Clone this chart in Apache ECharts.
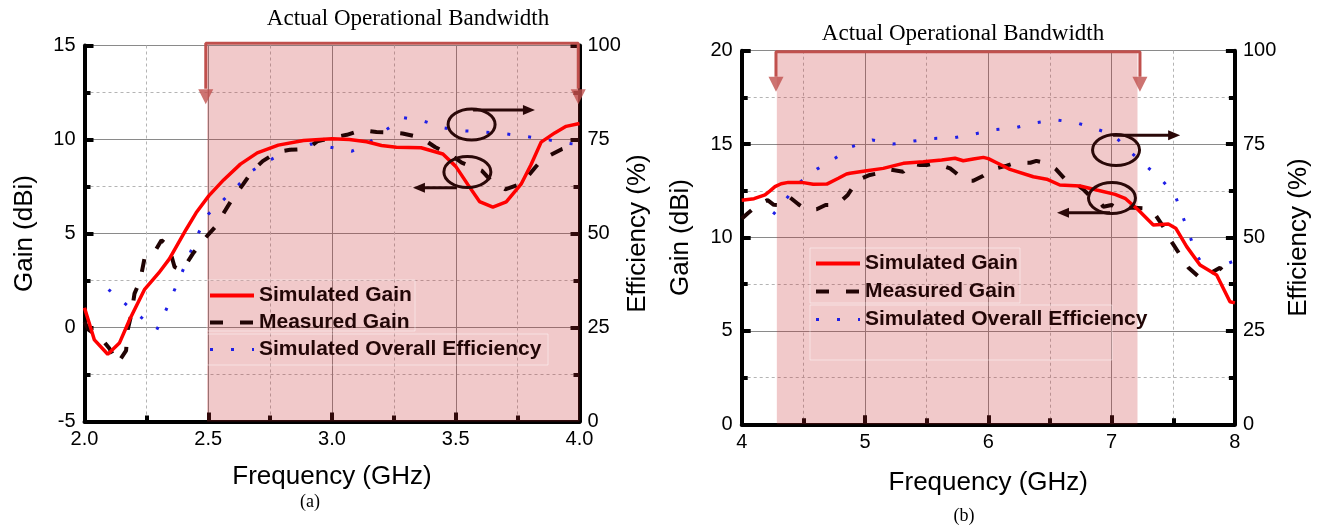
<!DOCTYPE html>
<html>
<head>
<meta charset="utf-8">
<script src="https://cdn.jsdelivr.net/npm/echarts@6/dist/echarts.min.js"></script>
<style>
  html, body { margin: 0; padding: 0; background: #fff; }
  #main { width: 1327px; height: 528px; }
</style>
</head>
<body>
<div id="main"></div>
<script>
// ---- data: [frequency GHz, value] ----
const simGainA = [
  [2.0, 1.05], [2.04, -0.66], [2.094, -1.42], [2.141, -0.83], [2.182, 0.41], [2.242, 2.01],
  [2.3, 2.9], [2.343, 3.65], [2.41, 5.2], [2.451, 6.1], [2.502, 7.0], [2.562, 7.85],
  [2.63, 8.69], [2.698, 9.29], [2.783, 9.7], [2.885, 9.95], [3.0, 10.04], [3.07, 10.0],
  [3.14, 9.88], [3.2, 9.68], [3.26, 9.59], [3.36, 9.56], [3.448, 9.23], [3.5, 8.57],
  [3.549, 7.6], [3.596, 6.7], [3.65, 6.4], [3.704, 6.68], [3.764, 7.62], [3.804, 8.66],
  [3.845, 9.86], [3.9, 10.35], [3.946, 10.7], [4.0, 10.85]
];
const measGainA = [
  [2.0, 0.3], [2.017, -0.12], [2.067, -0.57], [2.1, -1.1], [2.134, -1.9], [2.168, -1.23],
  [2.175, -0.09], [2.189, 0.68], [2.202, 1.8], [2.225, 2.5], [2.242, 3.65], [2.273, 3.79],
  [2.311, 4.64], [2.34, 4.33], [2.364, 3.22], [2.395, 3.04], [2.438, 3.93], [2.474, 4.56],
  [2.535, 5.45], [2.558, 6.0], [2.6, 6.9], [2.64, 7.6], [2.68, 8.35], [2.72, 8.85],
  [2.78, 9.35], [2.83, 9.45], [2.9, 9.5], [2.94, 9.9], [3.02, 10.15], [3.06, 10.25],
  [3.12, 10.5], [3.18, 10.4], [3.236, 10.38], [3.285, 10.32], [3.36, 10.1], [3.416, 9.6],
  [3.48, 9.18], [3.524, 8.77], [3.605, 8.34], [3.64, 7.85], [3.7, 7.35], [3.766, 7.65],
  [3.82, 8.5], [3.85, 8.95], [3.93, 9.5], [3.98, 9.7], [4.0, 9.75]
];
const effA = [
  [2.097, 35.1], [2.163, 31.4], [2.229, 27.7], [2.292, 24.4], [2.327, 29.3], [2.361, 34.6],
  [2.395, 39.8], [2.428, 45.0], [2.462, 50.3], [2.498, 55.0], [2.559, 58.8], [2.622, 62.9],
  [2.68, 66.8], [2.757, 69.8], [2.832, 72.3], [2.916, 73.8], [2.997, 72.9], [3.081, 71.9],
  [3.152, 74.3], [3.219, 77.6], [3.289, 80.8], [3.37, 79.9], [3.45, 78.1], [3.533, 77.3],
  [3.616, 77.0], [3.701, 76.5], [3.784, 75.8], [3.868, 75.0], [3.952, 74.0], [4.0, 73.6]
];

const simGainB = [
  [4.0, 12.0], [4.1, 12.08], [4.189, 12.28], [4.23, 12.5], [4.27, 12.72], [4.32, 12.88],
  [4.378, 12.95], [4.487, 12.95], [4.58, 12.85], [4.69, 12.86], [4.784, 13.17], [4.85, 13.4],
  [4.878, 13.44], [5.0, 13.56], [5.148, 13.7], [5.311, 13.97], [5.473, 14.06], [5.622, 14.15],
  [5.73, 14.24], [5.797, 14.11], [5.878, 14.2], [5.96, 14.29], [6.0, 14.22], [6.068, 14.0],
  [6.176, 13.65], [6.365, 13.25], [6.474, 13.12], [6.58, 12.81], [6.744, 12.76], [6.879, 12.54],
  [7.028, 12.31], [7.109, 12.1], [7.217, 11.47], [7.338, 10.67], [7.46, 10.72], [7.52, 10.5],
  [7.609, 9.51], [7.717, 8.53], [7.852, 7.99], [7.96, 6.56], [8.0, 6.5]
];
const measGainB = [
  [4.0, 11.0], [4.05, 11.3], [4.13, 11.74], [4.21, 12.0], [4.26, 11.75], [4.31, 11.74],
  [4.384, 12.18], [4.46, 11.78], [4.527, 11.47], [4.608, 11.51], [4.68, 11.74], [4.77, 11.74],
  [4.86, 12.28], [4.94, 13.08], [5.04, 13.35], [5.108, 13.44], [5.19, 13.65], [5.31, 13.52],
  [5.365, 13.97], [5.446, 13.88], [5.5, 13.88], [5.554, 13.97], [5.608, 13.88], [5.69, 13.7],
  [5.73, 13.49], [5.81, 13.04], [5.878, 13.04], [5.96, 13.31], [6.03, 13.65], [6.15, 13.85],
  [6.22, 14.0], [6.34, 14.0], [6.39, 14.1], [6.487, 13.95], [6.55, 13.65], [6.622, 13.12],
  [6.676, 13.04], [6.77, 12.58], [6.825, 12.22], [6.892, 12.0], [6.933, 11.65], [7.0, 11.74],
  [7.04, 11.56], [7.15, 11.6], [7.257, 11.56], [7.333, 11.43], [7.419, 10.58], [7.46, 10.04],
  [7.568, 8.94], [7.622, 8.4], [7.73, 7.76], [7.784, 8.03], [7.879, 8.38], [7.946, 7.9], [8.0, 7.6]
];
const effB = [
  [4.256, 56.2], [4.362, 60.4], [4.476, 64.9], [4.61, 68.3], [4.757, 71.2], [4.892, 74.3],
  [5.06, 76.1], [5.225, 75.0], [5.392, 75.8], [5.554, 76.5], [5.724, 76.7], [5.887, 77.7],
  [6.06, 78.9], [6.221, 79.4], [6.384, 80.7], [6.548, 81.5], [6.717, 80.7], [6.879, 79.0],
  [7.014, 77.5], [7.13, 73.6], [7.257, 69.8], [7.387, 66.1], [7.514, 61.4], [7.573, 56.0],
  [7.63, 50.8], [7.69, 45.3], [7.771, 41.1], [7.85, 40.6], [7.922, 42.8], [8.0, 43.8]
];

// axis ticks
const freqTicksA = [2.0, 2.5, 3.0, 3.5, 4.0];
const gainTicksA = [-5, 0, 5, 10, 15];
const freqTicksB = [4, 5, 6, 7, 8];
const gainTicksB = [0, 5, 10, 15, 20];
const effTicks = [0, 25, 50, 75, 100];

// operational band (GHz) and bracket heights (dBi): [from, to]
const bandA = [2.495, 4.0];
const bracketA = [2.49, 3.995];
const bracketYA = [15.12, 12.7, 12.28];
const bandB = [4.285, 7.21];
const bracketB = [4.278, 7.23];
const bracketYB = [19.95, 18.6, 18.2];

// ellipse + arrow annotations in data units
const ringsA = [
  { c: [3.564, 10.80], from: [3.570, 11.57], to: [3.820, 11.57] },
  { c: [3.547, 8.27], from: [3.505, 7.44], to: [3.327, 7.44] }
];
const ringsB = [
  { c: [7.036, 14.68], from: [7.012, 15.47], to: [7.556, 15.47] },
  { c: [7.003, 12.11], from: [6.987, 11.33], to: [6.557, 11.33] }
];

const names = ['Simulated Gain', 'Measured Gain', 'Simulated Overall Efficiency'];
const SANS = '"Liberation Sans", Arial, sans-serif';
const SERIF = '"Liberation Serif", "Times New Roman", serif';
const red = '#ff0000', dark = '#200404', blue = '#1f1fe6', brk = '#c0504d', ink = '#2a0808';

var dom = document.getElementById('main');
var myChart = echarts.init(dom, null, { renderer: 'canvas' });

function ticks() {
  return {
    axisTick: { show: true, inside: true, length: 9, lineStyle: { color: '#000', width: 4 } },
    minorTick: { show: true, splitNumber: 2, length: 6, lineStyle: { color: '#000', width: 4 } }
  };
}
function xAxisCfg(grid, tk, fmt) {
  return Object.assign({
    type: 'value', gridIndex: grid,
    min: tk[0], max: tk[tk.length - 1], interval: tk[1] - tk[0],
    name: 'Frequency (GHz)', nameLocation: 'middle', nameGap: grid === 0 ? 42 : 46,
    nameTextStyle: { fontSize: 26, color: '#000', fontFamily: SANS },
    axisLine: { show: true, onZero: false, lineStyle: { color: '#000', width: 4 } },
    axisLabel: { fontSize: 20, color: '#000', fontFamily: SANS, margin: 8, formatter: fmt },
    splitLine: { show: true, lineStyle: { color: '#8a8a8a', width: 1 } },
    minorSplitLine: { show: true, lineStyle: { color: '#b4b4b4', width: 1, type: [3, 3] } }
  }, ticks());
}
function gainAxisCfg(grid, tk) {
  return Object.assign({
    type: 'value', gridIndex: grid, position: 'left',
    min: tk[0], max: tk[tk.length - 1], interval: tk[1] - tk[0],
    name: 'Gain (dBi)', nameLocation: 'middle', nameGap: grid === 0 ? 47 : 48, nameRotate: 90,
    nameTextStyle: { fontSize: 26, color: '#000', fontFamily: SANS },
    axisLine: { show: true, onZero: false, lineStyle: { color: '#000', width: 4 } },
    axisLabel: { fontSize: 20, color: '#000', fontFamily: SANS, margin: 9 },
    splitLine: { show: true, lineStyle: { color: '#8a8a8a', width: 1 } },
    minorSplitLine: { show: true, lineStyle: { color: '#b4b4b4', width: 1, type: [3, 3] } }
  }, ticks());
}
function effAxisCfg(grid) {
  return Object.assign({
    type: 'value', gridIndex: grid, position: 'right',
    min: effTicks[0], max: effTicks[effTicks.length - 1], interval: effTicks[1] - effTicks[0],
    name: 'Efficiency (%)', nameLocation: 'middle', nameGap: grid === 0 ? 36 : 51, nameRotate: 90,
    nameTextStyle: { fontSize: 26, color: '#000', fontFamily: SANS },
    axisLine: { show: true, onZero: false, lineStyle: { color: '#000', width: 4 } },
    axisLabel: { fontSize: 20, color: '#000', fontFamily: SANS, margin: 8 },
    splitLine: { show: false }, minorSplitLine: { show: false }
  }, ticks());
}
function legendCfg(left, top, gap) {
  return {
    data: [
      { name: names[0], lineStyle: { width: 4 } },
      { name: names[1], lineStyle: { width: 4 } },
      { name: names[2], lineStyle: { width: 3 } }
    ],
    orient: 'vertical', left: left, top: top, padding: 0,
    itemWidth: 44, itemHeight: 14, itemGap: gap, selectedMode: false,
    itemStyle: { color: 'rgba(0,0,0,0)', borderWidth: 0, opacity: 0 },
    textStyle: { fontSize: 21, fontWeight: 'bold', color: '#220606', fontFamily: SANS }
  };
}
function panelSeries(xi, yi, ei, sim, meas, eff, band, brX, brY) {
  return [
    { type: 'line', xAxisIndex: xi, yAxisIndex: yi, data: [], z: 1, silent: true,
      markArea: { silent: true, itemStyle: { color: 'rgba(200, 40, 45, 0.25)' },
        data: [[{ xAxis: band[0] }, { xAxis: band[1] }]] } },
    { name: names[2], type: 'line', xAxisIndex: xi, yAxisIndex: ei, data: eff, symbol: 'none', z: 3,
      lineStyle: { color: blue, width: 3, type: [3, 18], cap: 'butt' }, itemStyle: { color: blue } },
    { name: names[1], type: 'line', xAxisIndex: xi, yAxisIndex: yi, data: meas, symbol: 'none', z: 4,
      lineStyle: { color: dark, width: 4, type: [13, 17], cap: 'butt' }, itemStyle: { color: dark } },
    { name: names[0], type: 'line', xAxisIndex: xi, yAxisIndex: yi, data: sim, symbol: 'none', z: 5,
      lineStyle: { color: red, width: 3.5 }, itemStyle: { color: red } },
    { type: 'line', xAxisIndex: xi, yAxisIndex: yi, symbol: 'none', clip: false, silent: true, z: 6,
      data: [[brX[0], brY[1]], [brX[0], brY[0]], [brX[1], brY[0]], [brX[1], brY[1]]],
      lineStyle: { color: brk, width: 3 } },
    { type: 'scatter', xAxisIndex: xi, yAxisIndex: yi, symbol: 'triangle', symbolRotate: 180,
      symbolSize: [15, 15], clip: false, silent: true, z: 6,
      data: [[brX[0], brY[2]], [brX[1], brY[2]]], itemStyle: { color: brk } }
  ];
}

var option = {
  animation: false,
  backgroundColor: '#fff',
  grid: [
    { left: 84.5, top: 45.5, width: 495, height: 376, outerBoundsMode: 'none' },
    { left: 741.7, top: 50.7, width: 493.2, height: 373.6, outerBoundsMode: 'none' }
  ],
  legend: [legendCfg(208, 285, 6), legendCfg(814, 253, 7)],
  xAxis: [
    xAxisCfg(0, freqTicksA, function (v) { return v.toFixed(1); }),
    xAxisCfg(1, freqTicksB, function (v) { return String(Math.round(v)); })
  ],
  yAxis: [gainAxisCfg(0, gainTicksA), effAxisCfg(0), gainAxisCfg(1, gainTicksB), effAxisCfg(1)],
  series: [].concat(
    panelSeries(0, 0, 1, simGainA, measGainA, effA, bandA, bracketA, bracketYA),
    panelSeries(1, 2, 3, simGainB, measGainB, effB, bandB, bracketB, bracketYB)
  )
};
myChart.setOption(option);

// decorations: titles, legend frames and the ellipse/arrow callouts
function callouts(xi, yi, rings) {
  var out = [];
  rings.forEach(function (r) {
    var c = myChart.convertToPixel({ xAxisIndex: xi, yAxisIndex: yi }, r.c);
    var a = myChart.convertToPixel({ xAxisIndex: xi, yAxisIndex: yi }, r.from);
    var b = myChart.convertToPixel({ xAxisIndex: xi, yAxisIndex: yi }, r.to);
    var d = b[0] > a[0] ? 1 : -1;
    out.push({ type: 'ellipse', silent: true, z: 100,
      shape: { cx: c[0], cy: c[1], rx: 23.5, ry: 15.5 },
      style: { fill: 'none', stroke: ink, lineWidth: 3 } });
    out.push({ type: 'polyline', silent: true, z: 100,
      shape: { points: [a, [b[0] - d * 6, b[1]]] },
      style: { fill: 'none', stroke: ink, lineWidth: 3 } });
    out.push({ type: 'polygon', silent: true, z: 100,
      shape: { points: [[b[0] - d * 12, b[1] - 5], b, [b[0] - d * 12, b[1] + 5]] },
      style: { fill: ink } });
  });
  return out;
}
function label(x, y, text, size, family) {
  return { type: 'text', silent: true, z: 100, x: x, y: y,
    style: { text: text, fontSize: size, fontFamily: family, fill: '#000',
      align: 'center', verticalAlign: 'middle' } };
}
function frame(x, y, w, h) {
  return { type: 'rect', silent: true, z: 50, shape: { x: x, y: y, width: w, height: h },
    style: { fill: 'none', stroke: 'rgba(255,255,255,0.45)', lineWidth: 1 } };
}
myChart.setOption({
  graphic: [].concat(
    [label(408, 19, 'Actual Operational Bandwidth', 23, SERIF),
     label(963, 34, 'Actual Operational Bandwidth', 23, SERIF),
     label(310, 502, '(a)', 18, SERIF),
     label(964, 516, '(b)', 18, SERIF),
     frame(207, 280, 208, 51), frame(207, 334, 341, 31),
     frame(810, 248, 210, 55), frame(810, 305, 302, 55)],
    callouts(0, 0, ringsA),
    callouts(1, 2, ringsB)
  )
});

window.addEventListener('resize', myChart.resize);
</script>
</body>
</html>
